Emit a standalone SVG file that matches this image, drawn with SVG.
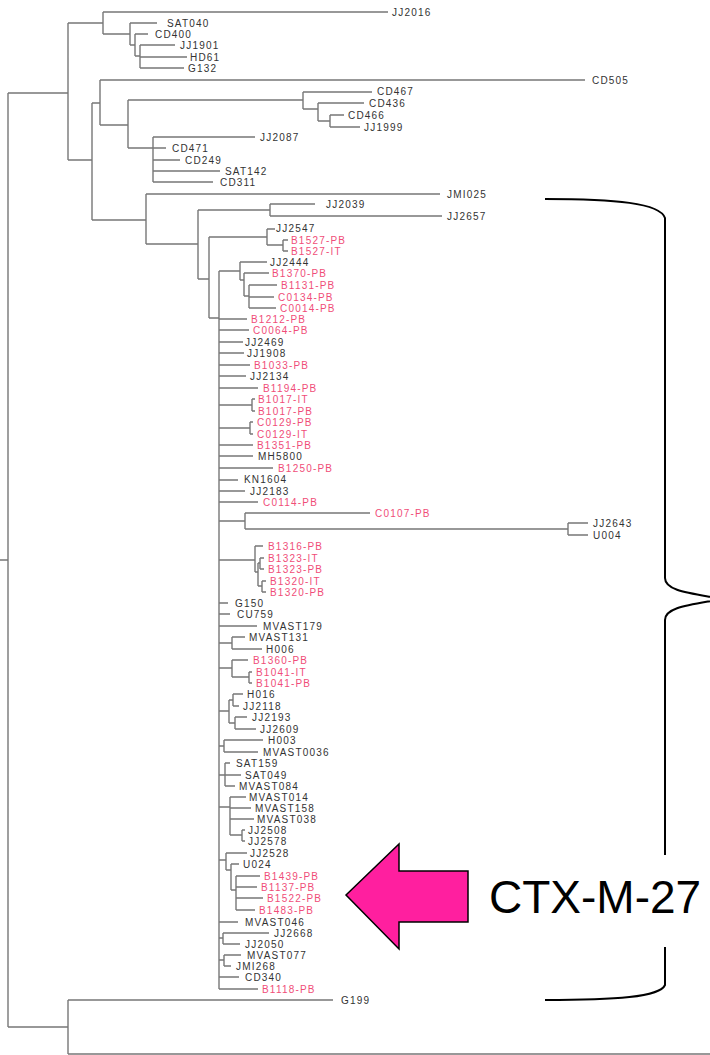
<svg xmlns="http://www.w3.org/2000/svg" width="710" height="1055" viewBox="0 0 710 1055">
<style>
.e{fill:none;stroke:#777;stroke-width:1.4}
text.l{font-family:"Liberation Sans",Arial,sans-serif;font-size:10px;letter-spacing:1.2px;fill:#333}
text.p{fill:#f04d78}
.br{fill:none;stroke:#000;stroke-width:2}
</style>
<rect width="710" height="1055" fill="#fff"/>
<g id="connectors">
<path class="e" d="M0,560H8M8,93V1027M8,93H68M8,1027H68M68,23V160M68,1000V1054M68,1000H333M68,1054H712
M68,23H103M103,12V34M103,12H388M103,34H130M130,23V45M130,23H157M130,45H135M135,34V56M135,34H148M135,56H140M140,45V68M140,45H175M140,57H187M140,68H184
M68,160H92M92,103V220M92,103H100M100,80V125M100,80H585M100,125H128M128,100V148M128,100H303M303,92V109M303,92H372M303,109H318M318,103V121M318,103H364M318,121H330M330,115V127M330,115H344M330,127H360
M128,148H153M153,137V182M153,137H255M153,148H166M153,160H180M153,171H220M153,182H213
M92,220H146M146,194V244M146,194H440M146,244H198M198,210V279M198,210H270M270,204V216M270,204H315M270,216H442
M198,279H209M209,237V318M209,237H267M267,229V245M267,229H275M267,245H283M283,240V251M283,240H288M283,251H288M209,318H219
M219,271V989M219,271H240M240,262V280M240,262H267M240,280H244M244,273V296M244,273H269M244,296H249M249,285V308M249,285H277M249,297H274M249,308H276
M219,319H247M219,330H249M219,342H243M219,353H244M219,365H250M219,376H246M219,388H258
M219,405H252M252,399V411M252,399H255M252,411H255M219,428H250M250,422V434M250,422H253M250,434H253
M219,445H253M219,456H253M219,468H273M219,480H238M219,491H245M219,502H258
M219,521H245M245,513V529M245,513H370M245,529H568M568,523V535M568,523H588M568,535H588
M219,560H255M255,546V572M255,546H263M255,572H258M258,563V586M258,563H260M260,558V569M260,558H264M260,569H264M258,586H262M262,581V592M262,581H266M262,592H266
M219,603H228M219,614H230M219,626H257
M219,643H232M232,637V649M232,637H245M232,649H262
M219,668H232M232,660V677M232,660H248M232,677H249M249,672V683M249,672H252M249,683H252
M219,711H229M229,700V723M229,700H233M233,694V706M233,694H243M233,706H239M229,723H235M235,717V729M235,717H247M235,729H256
M219,746H224M224,740V752M224,740H263M224,752H258
M219,775H225M225,763V786M225,763H230M225,775H241M225,786H235
M219,807H230M230,797V835M230,797H246M230,808H251M230,819H254M230,835H242M242,830V841M242,830H245M242,841H245
M219,860H226M226,853V870M226,853H247M226,870H231M231,864V890M231,864H239M231,890H236M236,876V910M236,876H260M236,887H257M236,898H263M236,910H255
M219,922H238M219,938H223M223,933V944M223,933H269M223,944H240M219,960H224M224,955V966M224,955H241M224,966H231M219,977H239M219,989H258"/>
</g>
<g id="leaves">
<g id="n-JJ2016"><text class="l" x="392" y="15.5">JJ2016</text></g>
<g id="n-SAT040"><text class="l" x="167" y="26.5">SAT040</text></g>
<g id="n-CD400"><text class="l" x="155" y="37.5">CD400</text></g>
<g id="n-JJ1901"><text class="l" x="180" y="48.5">JJ1901</text></g>
<g id="n-HD61"><text class="l" x="190" y="60.5">HD61</text></g>
<g id="n-G132"><text class="l" x="188" y="71.5">G132</text></g>
<g id="n-CD505"><text class="l" x="592" y="84">CD505</text></g>
<g id="n-CD467"><text class="l" x="377" y="95">CD467</text></g>
<g id="n-CD436"><text class="l" x="369" y="106.5">CD436</text></g>
<g id="n-CD466"><text class="l" x="348" y="118.5">CD466</text></g>
<g id="n-JJ1999"><text class="l" x="364" y="130.5">JJ1999</text></g>
<g id="n-JJ2087"><text class="l" x="260" y="140.5">JJ2087</text></g>
<g id="n-CD471"><text class="l" x="172" y="151.5">CD471</text></g>
<g id="n-CD249"><text class="l" x="185" y="163.5">CD249</text></g>
<g id="n-SAT142"><text class="l" x="225" y="174.5">SAT142</text></g>
<g id="n-CD311"><text class="l" x="220" y="185.5">CD311</text></g>
<g id="n-JMI025"><text class="l" x="447" y="198">JMI025</text></g>
<g id="n-JJ2039"><text class="l" x="326" y="208">JJ2039</text></g>
<g id="n-JJ2657"><text class="l" x="447" y="220">JJ2657</text></g>
<g id="n-JJ2547"><text class="l" x="276" y="231.5">JJ2547</text></g>
<g id="n-B1527-PB"><text class="l p" x="291" y="243.5">B1527-PB</text></g>
<g id="n-B1527-IT"><text class="l p" x="291" y="254.5">B1527-IT</text></g>
<g id="n-JJ2444"><text class="l" x="270" y="265.5">JJ2444</text></g>
<g id="n-B1370-PB"><text class="l p" x="272" y="276.5">B1370-PB</text></g>
<g id="n-B1131-PB"><text class="l p" x="281" y="288.5">B1131-PB</text></g>
<g id="n-C0134-PB"><text class="l p" x="278" y="300.5">C0134-PB</text></g>
<g id="n-C0014-PB"><text class="l p" x="280" y="311.5">C0014-PB</text></g>
<g id="n-B1212-PB"><text class="l p" x="251" y="322.5">B1212-PB</text></g>
<g id="n-C0064-PB"><text class="l p" x="253" y="333.5">C0064-PB</text></g>
<g id="n-JJ2469"><text class="l" x="245" y="345.5">JJ2469</text></g>
<g id="n-JJ1908"><text class="l" x="247" y="356.5">JJ1908</text></g>
<g id="n-B1033-PB"><text class="l p" x="254" y="368.5">B1033-PB</text></g>
<g id="n-JJ2134"><text class="l" x="250" y="379.5">JJ2134</text></g>
<g id="n-B1194-PB"><text class="l p" x="263" y="391.5">B1194-PB</text></g>
<g id="n-B1017-IT"><text class="l p" x="258" y="402.5">B1017-IT</text></g>
<g id="n-B1017-PB"><text class="l p" x="258" y="414.5">B1017-PB</text></g>
<g id="n-C0129-PB"><text class="l p" x="257" y="425.5">C0129-PB</text></g>
<g id="n-C0129-IT"><text class="l p" x="257" y="437.5">C0129-IT</text></g>
<g id="n-B1351-PB"><text class="l p" x="257" y="448.5">B1351-PB</text></g>
<g id="n-MH5800"><text class="l" x="258" y="459.5">MH5800</text></g>
<g id="n-B1250-PB"><text class="l p" x="278" y="471.5">B1250-PB</text></g>
<g id="n-KN1604"><text class="l" x="244" y="483">KN1604</text></g>
<g id="n-JJ2183"><text class="l" x="250" y="494.5">JJ2183</text></g>
<g id="n-C0114-PB"><text class="l p" x="263" y="505.5">C0114-PB</text></g>
<g id="n-C0107-PB"><text class="l p" x="375" y="516.5">C0107-PB</text></g>
<g id="n-JJ2643"><text class="l" x="593" y="526.5">JJ2643</text></g>
<g id="n-U004"><text class="l" x="593" y="538.5">U004</text></g>
<g id="n-B1316-PB"><text class="l p" x="268" y="549.5">B1316-PB</text></g>
<g id="n-B1323-IT"><text class="l p" x="268" y="561.5">B1323-IT</text></g>
<g id="n-B1323-PB"><text class="l p" x="268" y="572.5">B1323-PB</text></g>
<g id="n-B1320-IT"><text class="l p" x="270" y="584.5">B1320-IT</text></g>
<g id="n-B1320-PB"><text class="l p" x="270" y="595.5">B1320-PB</text></g>
<g id="n-G150"><text class="l" x="235" y="606.5">G150</text></g>
<g id="n-CU759"><text class="l" x="237" y="617.5">CU759</text></g>
<g id="n-MVAST179"><text class="l" x="263" y="629.5">MVAST179</text></g>
<g id="n-MVAST131"><text class="l" x="249" y="640.5">MVAST131</text></g>
<g id="n-H006"><text class="l" x="266" y="652.5">H006</text></g>
<g id="n-B1360-PB"><text class="l p" x="253" y="663.5">B1360-PB</text></g>
<g id="n-B1041-IT"><text class="l p" x="256" y="675.5">B1041-IT</text></g>
<g id="n-B1041-PB"><text class="l p" x="256" y="686.5">B1041-PB</text></g>
<g id="n-H016"><text class="l" x="247" y="697.5">H016</text></g>
<g id="n-JJ2118"><text class="l" x="243" y="709.5">JJ2118</text></g>
<g id="n-JJ2193"><text class="l" x="252" y="720.5">JJ2193</text></g>
<g id="n-JJ2609"><text class="l" x="260" y="732.5">JJ2609</text></g>
<g id="n-H003"><text class="l" x="268" y="743.5">H003</text></g>
<g id="n-MVAST0036"><text class="l" x="263" y="755.5">MVAST0036</text></g>
<g id="n-SAT159"><text class="l" x="236" y="766.5">SAT159</text></g>
<g id="n-SAT049"><text class="l" x="245" y="778.5">SAT049</text></g>
<g id="n-MVAST084"><text class="l" x="239" y="789.5">MVAST084</text></g>
<g id="n-MVAST014"><text class="l" x="249" y="800.5">MVAST014</text></g>
<g id="n-MVAST158"><text class="l" x="255" y="811.5">MVAST158</text></g>
<g id="n-MVAST038"><text class="l" x="257" y="822.5">MVAST038</text></g>
<g id="n-JJ2508"><text class="l" x="248" y="833.5">JJ2508</text></g>
<g id="n-JJ2578"><text class="l" x="248" y="844.5">JJ2578</text></g>
<g id="n-JJ2528"><text class="l" x="250" y="856.5">JJ2528</text></g>
<g id="n-U024"><text class="l" x="243" y="867.5">U024</text></g>
<g id="n-B1439-PB"><text class="l p" x="264" y="879.5">B1439-PB</text></g>
<g id="n-B1137-PB"><text class="l p" x="261" y="890.5">B1137-PB</text></g>
<g id="n-B1522-PB"><text class="l p" x="267" y="901.5">B1522-PB</text></g>
<g id="n-B1483-PB"><text class="l p" x="259" y="913.5">B1483-PB</text></g>
<g id="n-MVAST046"><text class="l" x="245" y="925.5">MVAST046</text></g>
<g id="n-JJ2668"><text class="l" x="274" y="936.5">JJ2668</text></g>
<g id="n-JJ2050"><text class="l" x="245" y="947.5">JJ2050</text></g>
<g id="n-MVAST077"><text class="l" x="247" y="958.5">MVAST077</text></g>
<g id="n-JMI268"><text class="l" x="236" y="969.5">JMI268</text></g>
<g id="n-CD340"><text class="l" x="245" y="980.5">CD340</text></g>
<g id="n-B1118-PB"><text class="l p" x="262" y="992.5">B1118-PB</text></g>
<g id="n-G199"><text class="l" x="341" y="1003.5">G199</text></g>
</g>
<g id="brace">
<path class="br" d="M545,199C615,199 660,203 665,218V578C665,591 690,593 722,599C690,605 665,607 665,620V985C660,997 615,1000 545,1000"/>
</g>
<g id="ctx-label">
<rect x="484" y="855" width="226" height="92" fill="#fff"/>
<text x="489" y="913" font-family="'Liberation Sans',Arial,sans-serif" font-size="46" fill="#000">CTX-M-27</text>
</g>
<g id="arrow">
<path d="M346,895L399,844V871H468V922H399V949Z" fill="#ff1f9f" stroke="#000" stroke-width="1.5" stroke-linejoin="miter"/>
</g>
</svg>
